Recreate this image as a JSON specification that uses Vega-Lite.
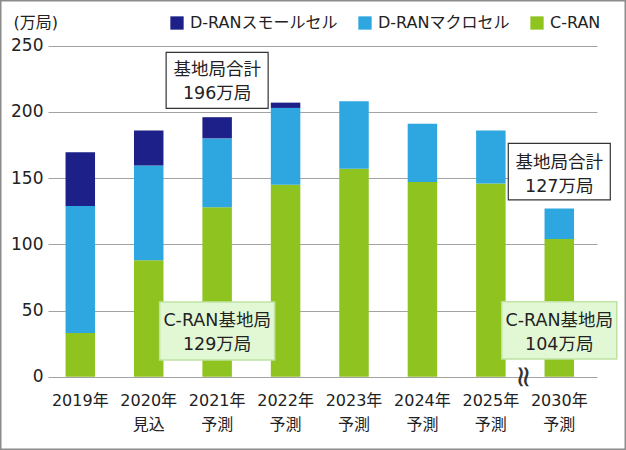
{
  "$schema": "https://vega.github.io/schema/vega-lite/v6.json",
  "width": 626,
  "height": 450,
  "autosize": "none",
  "padding": 0,
  "background": "white",
  "config": {
    "view": {"stroke": "#8c8c8c", "strokeWidth": 3},
    "font": "DejaVu Sans, Noto Sans CJK JP",
    "text": {"font": "DejaVu Sans, Noto Sans CJK JP"}
  },
  "datasets": {
    "bars": [
      {"year": "2019年", "series": "C-RAN", "value": 33},
      {"year": "2019年", "series": "D-RANマクロセル", "value": 96},
      {"year": "2019年", "series": "D-RANスモールセル", "value": 40.5},
      {"year": "2020年", "series": "C-RAN", "value": 88},
      {"year": "2020年", "series": "D-RANマクロセル", "value": 71.5},
      {"year": "2020年", "series": "D-RANスモールセル", "value": 26.5},
      {"year": "2021年", "series": "C-RAN", "value": 128},
      {"year": "2021年", "series": "D-RANマクロセル", "value": 52},
      {"year": "2021年", "series": "D-RANスモールセル", "value": 16},
      {"year": "2022年", "series": "C-RAN", "value": 145},
      {"year": "2022年", "series": "D-RANマクロセル", "value": 58},
      {"year": "2022年", "series": "D-RANスモールセル", "value": 4},
      {"year": "2023年", "series": "C-RAN", "value": 157},
      {"year": "2023年", "series": "D-RANマクロセル", "value": 51},
      {"year": "2024年", "series": "C-RAN", "value": 147},
      {"year": "2024年", "series": "D-RANマクロセル", "value": 44},
      {"year": "2025年", "series": "C-RAN", "value": 146},
      {"year": "2025年", "series": "D-RANマクロセル", "value": 40},
      {"year": "2030年", "series": "C-RAN", "value": 104},
      {"year": "2030年", "series": "D-RANマクロセル", "value": 23}
    ],
    "notes": [
      {"year": "2021年", "kind": "total", "top": 245, "bottom": 202.7, "mid": 224, "label": "基地局合計\n196万局"},
      {"year": "2030年", "kind": "total", "top": 176.3, "bottom": 133.5, "mid": 154, "label": "基地局合計\n127万局"},
      {"year": "2021年", "kind": "cran", "top": 56.4, "bottom": 12.6, "mid": 34.4, "label": "C-RAN基地局\n129万局"},
      {"year": "2030年", "kind": "cran", "top": 56.6, "bottom": 13.4, "mid": 34.4, "label": "C-RAN基地局\n104万局"}
    ]
  },
  "encoding": {
    "x": {
      "field": "year", "type": "nominal", "title": null,
      "scale": {"domain": ["2019年","2020年","2021年","2022年","2023年","2024年","2025年","2030年"], "range": [48, 597], "paddingInner": 0.569, "paddingOuter": 0.296, "align": 0.433},
      "axis": {
        "title": null, "labelAngle": 0, "labelFontSize": 16, "labelColor": "#222",
        "ticks": false, "domain": false, "labelPadding": 16, "labelLineHeight": 23.5,
        "labelBaseline": "top", "labelDx": -2,
        "labelExpr": "datum.value == '2019年' ? datum.value : (datum.value == '2020年' ? [datum.value, '見込'] : [datum.value, '予測'])",
        "offset": -73.3
      }
    }
  },
  "layer": [
    {
      "data": {"name": "bars"},
      "transform": [
        {"calculate": "indexof(['C-RAN','D-RANマクロセル','D-RANスモールセル'], datum.series)", "as": "stackRank"}
      ],
      "mark": {"type": "bar"},
      "encoding": {
        "y": {
          "field": "value", "type": "quantitative", "stack": "zero", "title": "(万局)",
          "scale": {"domain": [0, 250], "range": [376.7, 45.7], "nice": false, "zero": true},
          "axis": {
            "values": [0, 50, 100, 150, 200, 250],
            "title": "(万局)", "titleAngle": 0, "titleAlign": "left", "titleBaseline": "middle",
            "titleX": -35, "titleY": 22, "titleFontSize": 16, "titleFontWeight": "normal", "titleColor": "#222",
            "labelFontSize": 17, "labelColor": "#222", "labelPadding": 5,
            "ticks": false, "domain": false, "grid": true, "gridColor": "#a3a3a3", "gridWidth": 1,
            "offset": -48
          }
        },
        "color": {
          "field": "series", "type": "nominal",
          "scale": {"domain": ["D-RANスモールセル", "D-RANマクロセル", "C-RAN"], "range": ["#1d2088", "#2ea7e0", "#8fc31f"]},
          "legend": {
            "title": null, "orient": "none", "legendX": 169, "legendY": 15, "direction": "horizontal",
            "symbolType": "square", "symbolSize": 177, "symbolStrokeWidth": 0, "symbolOpacity": 1,
            "labelFontSize": 16, "labelColor": "#222", "labelOffset": 5, "columnPadding": 19,
            "padding": 0, "labelLimit": 300
          }
        },
        "order": {"field": "stackRank", "type": "quantitative"}
      }
    },
    {
      "data": {"name": "notes"},
      "transform": [{"filter": "datum.kind == 'total'"}],
      "mark": {"type": "bar", "width": 102, "fill": "white", "stroke": "#333333", "strokeWidth": 1.2},
      "encoding": {
        "y": {"field": "top", "type": "quantitative", "title": "(万局)"},
        "y2": {"field": "bottom"}
      }
    },
    {
      "data": {"name": "notes"},
      "transform": [{"filter": "datum.kind == 'cran'"}],
      "mark": {"type": "bar", "width": 115, "fill": "#e2f8d5", "stroke": "#bfe3a3", "strokeWidth": 1.5},
      "encoding": {
        "y": {"field": "top", "type": "quantitative", "title": "(万局)"},
        "y2": {"field": "bottom"}
      }
    },
    {
      "data": {"name": "notes"},
      "mark": {"type": "text", "lineBreak": "\n", "fontSize": 17.5, "lineHeight": 24, "color": "#222", "align": "center", "baseline": "middle", "dy": -10},
      "encoding": {
        "y": {"field": "mid", "type": "quantitative", "title": "(万局)"},
        "text": {"field": "label", "type": "nominal"}
      }
    },
    {
      "data": {"values": [{"year": "2030年", "v": 0}]},
      "mark": {"type": "text", "text": "≈", "angle": 90, "fontSize": 30, "font": "DejaVu Sans", "color": "#333", "align": "center", "baseline": "middle", "xOffset": -36},
      "encoding": {
        "y": {"field": "v", "type": "quantitative", "title": "(万局)"}
      }
    }
  ]
}
